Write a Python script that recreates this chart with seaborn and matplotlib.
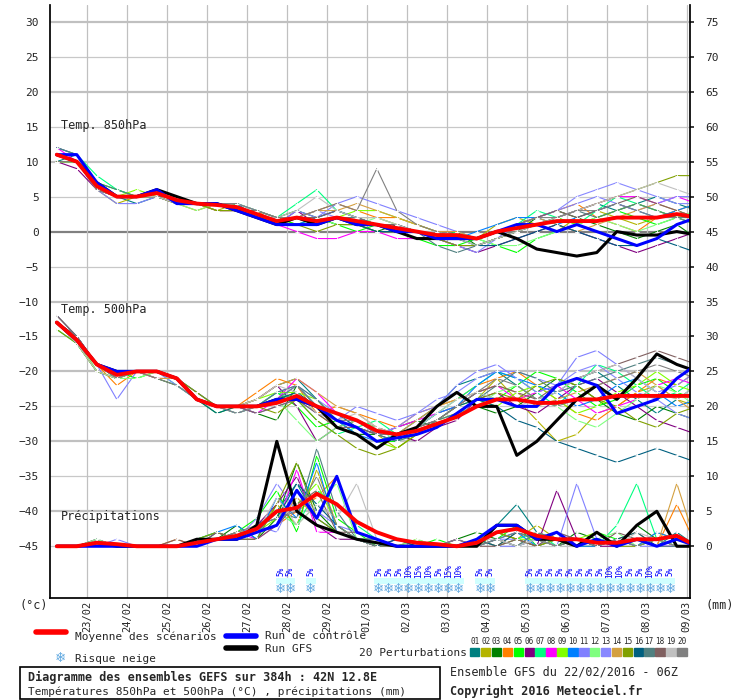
import matplotlib
matplotlib.use("Agg")
import matplotlib.pyplot as plt
import numpy as np
import pandas as pd
import seaborn as sns

sns.set_theme(style="white")
plt.rcParams["font.family"] = ["DejaVu Sans Mono", "DejaVu Sans"]

# time axis: days since 22/02 00Z, 12h steps from 22/02 06Z to 09/03 06Z
DAYS = [0.25 + 0.5 * i for i in range(33)]
DATE_LABELS = ["23/02", "24/02", "25/02", "26/02", "27/02", "28/02", "29/02", "01/03",
               "02/03", "03/03", "04/03", "05/03", "06/03", "07/03", "08/03", "09/03"]

MEMBER_COLORS = ["#008080", "#b4b400", "#008000", "#ff8000", "#00ff00", "#800080", "#00ff80",
                 "#ff00ff", "#80ff00", "#0080ff", "#8080ff", "#80ff80", "#8888ff", "#d4a040",
                 "#80a000", "#006080", "#508080", "#806060", "#c0c0c0", "#808080"]

t850_members = [
    [10,11,7,5,4,5,4,4,4,3,2,1,2,2,3,2,1,0,-1,-1,-2,-2,-1,0,1,2,3,4,3,4,5,4,3],
    [11,10,6,4,5,6,4,4,3,4,3,2,1,1,2,2,2,1,0,0,-1,-1,1,2,1,0,2,3,2,1,2,3,2],
    [10,10,7,5,5,5,5,4,4,3,2,2,3,2,1,1,0,1,0,-1,0,-2,-1,0,2,3,2,1,0,-1,0,1,-1],
    [12,11,6,5,5,6,4,3,4,3,3,1,2,3,4,3,2,2,1,0,-1,-1,0,1,2,3,4,2,1,0,2,3,4],
    [11,10,7,6,5,5,4,4,4,4,2,2,1,2,1,0,1,0,-1,-2,-2,-1,-2,-3,-1,0,1,2,3,2,1,2,1],
    [10,9,6,5,5,6,5,4,3,3,2,1,3,1,2,1,1,0,-1,-1,-2,-3,-2,-1,0,1,0,-1,-2,-3,-2,-1,0],
    [11,11,8,6,5,5,4,4,4,4,3,2,4,6,3,2,1,0,0,-1,0,-1,0,1,3,2,1,3,5,4,3,2,1],
    [12,10,6,5,5,5,4,4,3,3,2,1,0,-1,-1,0,0,-1,-1,-1,-2,-2,-1,0,1,2,3,4,5,5,4,5,4],
    [10,10,7,5,6,5,4,4,3,3,3,2,2,1,2,3,3,2,1,0,-1,-2,-1,0,1,2,1,2,3,4,3,2,3],
    [12,11,7,5,5,6,5,4,4,4,2,1,1,2,3,2,1,1,0,0,-1,0,1,2,2,1,2,3,4,3,2,3,4],
    [11,10,6,4,4,5,4,4,4,3,2,1,3,2,4,5,4,3,2,1,0,-1,0,1,2,3,4,5,4,3,4,5,5],
    [10,10,7,5,5,5,4,3,4,4,3,2,2,2,1,1,2,1,0,0,-1,-1,-2,-2,-1,0,1,2,1,0,1,2,3],
    [11,11,6,5,5,6,5,4,4,4,3,2,2,3,2,2,1,1,0,-1,-2,-3,-1,1,2,3,5,6,7,6,5,4,4],
    [11,10,7,5,5,5,4,4,4,3,2,2,2,3,3,4,3,2,1,0,0,-1,0,1,2,1,0,1,2,3,4,3,2],
    [10,10,6,5,5,5,4,4,3,3,2,1,1,0,1,1,0,0,-1,-1,-2,-2,-1,0,1,2,3,4,5,6,7,8,8],
    [11,10,7,5,5,6,4,4,4,3,2,2,2,1,2,1,0,0,-1,-1,-1,-2,-2,-1,0,1,0,-1,-2,-2,-1,-2,-3],
    [12,11,7,6,5,5,5,4,4,3,2,1,2,1,2,2,1,1,0,-2,-3,-2,-1,0,1,2,3,2,3,4,3,2,2],
    [11,10,6,5,5,5,4,4,4,3,3,2,2,2,3,2,1,1,0,-1,-1,-1,0,1,2,3,2,3,4,5,4,3,2],
    [11,10,7,5,5,5,4,4,4,3,2,2,3,5,3,2,2,1,0,0,-1,-2,-1,0,1,2,3,4,5,6,7,6,5],
    [10,10,6,5,5,6,5,4,4,4,3,2,2,3,4,3,9,3,1,0,-1,-1,0,1,2,2,3,3,4,3,2,2,1],
]
t850_mean = [11,10,6.5,5,5,5.5,4.5,4,3.8,3.5,2.5,1.5,2,1.5,2,1.5,1,0.5,0,-0.5,-0.5,-1,0,0.5,1,1.5,1.5,1.5,2,2,2,2.5,2]
t850_control = [11,11,7,5,5,6,4,4,4,3,2,1,1,1,2,1,1,0,0,-1,-1,-1,0,1,1,0,1,0,-1,-2,-1,1,2]
t850_gfs = [11,10,7,5,5,6,5,4,4,3,2,1,2,1,2,1,1,0,-1,-1,-1,-1,0,-1,-2.5,-3,-3.5,-3,0,-0.5,-0.5,0,-0.5]

t500_members = [
    [-13,-16,-19,-21,-20,-20,-21,-24,-25,-25,-24,-22,-21,-24,-27,-28,-30,-29,-27,-25,-22,-21,-20,-22,-24,-23,-21,-20,-22,-24,-26,-24,-22],
    [-13,-15,-19,-20,-20,-20,-21,-24,-25,-26,-25,-24,-23,-26,-28,-27,-29,-31,-29,-27,-26,-24,-21,-24,-27,-30,-29,-26,-25,-23,-22,-24,-25],
    [-13,-16,-20,-21,-20,-21,-22,-24,-25,-25,-26,-27,-22,-25,-27,-29,-29,-28,-27,-28,-26,-25,-26,-25,-23,-21,-22,-24,-26,-27,-25,-26,-27],
    [-12,-15,-19,-22,-20,-20,-21,-23,-25,-25,-23,-21,-22,-26,-25,-26,-27,-28,-26,-25,-24,-22,-21,-20,-22,-24,-26,-27,-25,-23,-21,-22,-20],
    [-13,-16,-19,-20,-21,-20,-21,-24,-26,-25,-25,-23,-25,-28,-27,-28,-30,-30,-28,-26,-25,-23,-24,-22,-20,-21,-23,-25,-24,-22,-21,-23,-24],
    [-13,-15,-19,-21,-20,-20,-21,-24,-25,-25,-24,-22,-25,-30,-28,-27,-28,-29,-30,-28,-27,-24,-23,-25,-26,-24,-22,-21,-23,-25,-27,-28,-29],
    [-14,-16,-20,-21,-20,-20,-22,-24,-25,-26,-25,-23,-24,-27,-29,-28,-27,-29,-28,-26,-24,-22,-20,-21,-23,-25,-22,-19,-20,-22,-24,-23,-21],
    [-13,-15,-19,-20,-20,-21,-21,-24,-25,-25,-26,-24,-21,-23,-26,-27,-29,-28,-27,-26,-25,-23,-22,-24,-23,-22,-24,-26,-25,-24,-22,-21,-22],
    [-13,-16,-20,-21,-20,-20,-21,-24,-25,-25,-24,-23,-23,-24,-27,-28,-30,-31,-29,-27,-25,-24,-25,-23,-22,-24,-26,-25,-23,-22,-20,-22,-23],
    [-12,-15,-19,-20,-20,-20,-21,-23,-25,-25,-25,-24,-22,-25,-27,-29,-30,-29,-28,-26,-25,-22,-20,-21,-22,-23,-25,-24,-22,-21,-23,-25,-24],
    [-13,-16,-19,-24,-20,-20,-21,-24,-25,-25,-26,-25,-24,-26,-27,-25,-26,-27,-26,-25,-22,-20,-19,-21,-23,-22,-18,-17,-19,-21,-23,-22,-20],
    [-13,-15,-20,-21,-21,-20,-21,-24,-25,-25,-25,-24,-27,-30,-28,-27,-28,-30,-29,-27,-26,-25,-23,-22,-24,-25,-27,-28,-26,-24,-22,-23,-25],
    [-13,-16,-19,-20,-20,-20,-22,-24,-25,-26,-25,-23,-22,-24,-26,-28,-29,-28,-26,-24,-23,-21,-20,-20,-21,-22,-20,-19,-21,-23,-24,-26,-27],
    [-13,-15,-19,-21,-20,-21,-21,-24,-25,-25,-24,-22,-21,-23,-25,-26,-28,-29,-27,-25,-24,-23,-22,-23,-25,-24,-23,-22,-21,-20,-22,-24,-26],
    [-14,-16,-20,-21,-20,-20,-21,-23,-25,-25,-25,-26,-24,-27,-29,-31,-32,-31,-29,-28,-26,-24,-23,-24,-22,-21,-22,-24,-25,-27,-28,-26,-25],
    [-13,-15,-19,-20,-20,-20,-21,-24,-26,-25,-25,-24,-23,-25,-26,-28,-29,-30,-28,-27,-25,-24,-25,-27,-28,-30,-31,-32,-33,-32,-31,-32,-33],
    [-13,-16,-19,-21,-20,-20,-21,-24,-25,-25,-25,-23,-22,-24,-27,-28,-29,-30,-29,-27,-26,-24,-22,-20,-21,-23,-22,-21,-20,-19,-18,-19,-20],
    [-12,-15,-19,-20,-20,-20,-21,-24,-25,-25,-26,-25,-24,-26,-28,-28,-29,-29,-28,-27,-25,-23,-22,-23,-24,-22,-21,-20,-19,-18,-17,-18,-19],
    [-13,-16,-20,-21,-20,-20,-21,-24,-25,-25,-24,-22,-23,-26,-27,-26,-28,-29,-28,-26,-24,-23,-24,-25,-24,-23,-21,-20,-19,-21,-23,-24,-22],
    [-13,-15,-19,-21,-20,-21,-22,-24,-25,-26,-25,-24,-22,-25,-27,-27,-29,-29,-28,-27,-25,-23,-21,-22,-24,-25,-24,-22,-21,-20,-19,-20,-21],
]
t500_mean = [-13,-15.5,-19,-20.5,-20,-20,-21,-24,-25,-25,-25,-24.5,-23.5,-25,-26,-27,-28.5,-29,-28.5,-27.5,-26.5,-25,-24,-24,-24.5,-24.5,-24,-24,-23.5,-23.5,-23.5,-23.5,-23.5]
t500_control = [-13,-15.5,-19,-20,-20,-20,-21,-24,-25,-25,-25,-24,-24,-25,-27,-28,-30,-29.5,-29,-28,-26,-24,-24,-25,-25,-22,-21,-22,-26,-25,-24,-21,-19]
t500_gfs = [-13,-15.5,-19,-20,-20,-20,-21,-24,-25,-25,-25,-24,-24,-25,-28,-29,-31,-29,-28,-25,-23,-25,-25,-32,-30,-27,-24,-22,-24,-21,-17.5,-19,-20]

precip_members = [
    [0,0,1,0,0,0,0,1,2,1,3,5,9,4,2,1,1,0,0,0,0,1,3,6,2,1,0,1,0,1,0,2,0],
    [0,0,0,0,0,0,0,0,1,2,2,6,3,11,3,1,0,0,1,0,0,0,2,1,3,1,0,0,1,0,2,1,0],
    [0,0,0,0,0,0,0,1,1,3,1,4,12,5,2,1,1,0,0,0,1,2,1,0,1,0,2,1,0,3,1,0,0],
    [0,0,0,0,0,0,1,0,2,1,2,3,5,7,10,2,1,0,0,0,0,1,0,2,1,0,1,0,1,2,0,6,0],
    [0,0,1,0,0,0,0,1,1,2,4,8,2,13,4,2,0,0,0,1,0,0,1,3,0,1,0,2,1,0,1,0,0],
    [0,0,0,0,0,0,0,0,1,1,3,6,10,3,1,1,0,1,0,0,0,1,2,1,0,8,1,0,0,1,0,1,0],
    [0,0,0,0,0,0,0,1,2,1,2,5,3,8,6,3,1,0,0,0,0,1,0,1,2,0,1,0,3,9,1,0,0],
    [0,0,1,0,0,0,0,0,1,2,1,3,11,2,2,1,0,0,0,0,1,0,1,0,2,1,0,1,0,1,0,0,0],
    [0,0,0,0,0,0,0,1,1,1,2,4,6,9,3,1,1,0,0,0,0,1,2,1,1,0,1,2,0,1,0,1,0],
    [0,0,0,0,0,0,0,0,2,3,1,7,4,12,2,1,0,0,0,0,0,0,1,2,0,1,0,0,1,0,2,1,0],
    [0,0,0,1,0,0,0,1,1,1,3,2,8,5,3,2,1,0,0,0,0,1,0,0,1,0,9,1,0,1,0,0,0],
    [0,0,1,0,0,0,0,0,1,2,2,5,3,6,9,1,0,0,1,0,0,0,1,0,2,1,0,1,2,0,1,0,0],
    [0,0,0,0,0,0,0,1,1,1,4,9,5,3,2,1,1,0,0,0,1,0,1,1,0,2,1,0,1,0,0,1,0],
    [0,0,0,0,0,0,0,0,1,2,2,3,7,4,10,2,1,0,0,0,0,1,0,1,0,1,0,2,0,1,0,9,0],
    [0,0,0,0,0,0,0,1,2,1,1,6,12,4,2,1,0,0,0,0,0,0,2,1,0,1,0,1,0,0,1,0,0],
    [0,0,0,0,0,0,0,0,1,1,3,4,9,6,3,1,0,1,0,0,0,1,0,2,1,0,1,0,1,2,0,1,0],
    [0,0,0,0,0,0,0,1,1,2,2,5,4,14,5,1,1,0,0,0,0,0,1,0,2,1,0,1,0,1,0,0,0],
    [0,0,0,0,0,0,1,0,2,1,1,3,6,8,2,2,1,0,0,0,1,0,0,1,0,2,1,0,2,1,0,1,0],
    [0,0,0,0,0,0,0,1,1,1,2,7,3,6,4,9,1,0,0,0,0,1,1,0,1,0,0,1,0,2,1,0,0],
    [0,0,0,0,0,0,0,1,1,2,3,4,5,10,3,1,0,0,0,0,1,0,1,2,1,0,1,0,1,0,1,0,0],
]
precip_mean = [0,0,0.5,0.3,0,0,0,0.5,1,1.5,2.5,5,5.5,7.5,6,3.5,2,1,0.5,0.3,0,0.5,2,2.5,1.5,1,1,0.5,0.5,1,1,1.5,0]
precip_control = [0,0,0,0,0,0,0,0,1,1,2,3,8,4,10,2,1,0,0,0,0,1,3,3,1,2,0,1,0,1,0,1,0]
precip_gfs = [0,0,0.5,0,0,0,0,1,1,1,3,15,5,3,2,1,0.5,0,0,0,0,0,3,3,1,1,0,2,0,3,5,0,0]

# snow risk (day, probability %)
snow_days = [5.85, 6.08, 6.6] + [8.3 + 0.25 * i for i in range(9)] + [10.83, 11.08] + \
            [12.08 + 0.25 * i for i in range(15)]
snow_pct = [5, 5, 5] + [5, 5, 5, 10, 15, 10, 5, 15, 10] + [5, 5] + \
           [5, 5, 5, 5, 5, 5, 5, 5, 10, 10, 5, 5, 10, 5, 5]


def long_frame(members):
    rows = []
    for i, series in enumerate(members):
        for d, v in zip(DAYS, series):
            rows.append({"day": d, "value": v, "member": f"{i + 1:02d}"})
    return pd.DataFrame(rows)


def draw_panel(ax, members, mean, control, gfs):
    df = long_frame(members)
    sns.lineplot(data=df, x="day", y="value", hue="member", palette=MEMBER_COLORS,
                 lw=0.8, marker="+", markersize=3, markeredgewidth=0.6,
                 legend=False, ax=ax, estimator=None)
    sns.lineplot(x=DAYS, y=gfs, color="black", lw=2.2, ax=ax)
    sns.lineplot(x=DAYS, y=control, color="blue", lw=2.2, ax=ax)
    sns.lineplot(x=DAYS, y=mean, color="red", lw=2.8, ax=ax)


fig = plt.figure(figsize=(7.4, 7.0), dpi=100)
ax = fig.add_axes([50 / 740, 1 - 598 / 700, 640 / 740, 593 / 700])
y_lo, y_hi = -52.4, 32.4
x_lo, x_hi = 0.08, 16.08

for v in range(-45, 35, 5):
    if v == 0:
        ax.axhline(v, color="#808080", lw=1.6, zorder=0)
    elif v % 10 == 0:
        ax.axhline(v, color="#c0c0c0", lw=1.6, zorder=0)
    else:
        ax.axhline(v, color="#c8c8c8", lw=0.9, zorder=0)
for d in range(1, 17):
    ax.axvline(d, color="#c0c0c0", lw=0.9, zorder=0)

draw_panel(ax, t850_members, t850_mean, t850_control, t850_gfs)
draw_panel(ax, t500_members, t500_mean, t500_control, t500_gfs)
draw_panel(ax, [[v - 45 for v in s] for s in precip_members],
           [v - 45 for v in precip_mean], [v - 45 for v in precip_control],
           [v - 45 for v in precip_gfs])

ax.set_xlim(x_lo, x_hi)
ax.set_ylim(y_lo, y_hi)
ax.set_xlabel("")
ax.set_ylabel("")
ax.set_yticks(range(-45, 35, 5))
ax.tick_params(axis="y", labelsize=8, length=0, pad=8)
ax.set_xticks(range(1, 17))
ax.set_xticklabels(DATE_LABELS, rotation=90, fontsize=7.5)
ax.tick_params(axis="x", length=0, pad=2)
for side in ["top", "right"]:
    ax.spines[side].set_visible(False)
ax.spines["left"].set_color("black")
ax.spines["bottom"].set_color("black")

ax2 = ax.twinx()
ax2.set_ylim(y_lo + 45, y_hi + 45)
ax2.set_yticks(range(0, 80, 5))
ax2.tick_params(axis="y", labelsize=8, length=3, pad=8)
for side in ["top", "left", "bottom"]:
    ax2.spines[side].set_visible(False)
ax2.spines["right"].set_color("black")
ax2.grid(False)

ax.text(0.35, 14.6, "Temp. 850hPa", fontsize=8.5)
ax.text(0.35, -11.6, "Temp. 500hPa", fontsize=8.5)
ax.text(0.35, -41.3, "Précipitations", fontsize=8.5)

# snow risk strip
for d, p in zip(snow_days, snow_pct):
    ax.add_patch(plt.Rectangle((d - 0.13, -50.4), 0.26, 0.8, color="#d0ffff", zorder=1, lw=0))
    ax.text(d, -51.0, "❄", color="#60a8e0", fontsize=11, ha="center", va="center", zorder=3)
    ax.text(d, -48.6, f"{p}%", color="blue", fontsize=5.5, rotation=90, ha="center",
            va="center", zorder=3)

fig.text(20 / 740, 1 - 606 / 700, "(°c)", fontsize=8.5, va="center")
fig.text(706 / 740, 1 - 606 / 700, "(mm)", fontsize=8.5, va="center")


# legend area
def fig_line(x0, x1, y, color):
    fig.add_artist(plt.Line2D([x0 / 740, x1 / 740], [1 - y / 700] * 2, color=color, lw=4))


fig_line(36, 66, 632, "red")
fig.text(75 / 740, 1 - 637 / 700, "Moyenne des scénarios", fontsize=8, va="center")
fig_line(226, 256, 636, "blue")
fig.text(265 / 740, 1 - 636 / 700, "Run de contrôle", fontsize=8, va="center")
fig_line(226, 256, 648, "black")
fig.text(265 / 740, 1 - 649 / 700, "Run GFS", fontsize=8, va="center")
fig.text(60 / 740, 1 - 658 / 700, "❄", color="#60a8e0", fontsize=11, ha="center", va="center")
fig.text(75 / 740, 1 - 659 / 700, "Risque neige", fontsize=8, va="center")
fig.text(467 / 740, 1 - 653 / 700, "20 Perturbations", fontsize=8, va="center", ha="right")
for i, c in enumerate(MEMBER_COLORS):
    x0 = 470 + i * 10.9
    fig.add_artist(plt.Rectangle((x0 / 740, 1 - 656 / 700), 9.5 / 740, 8 / 700, color=c))
    fig.text((x0 + 4.8) / 740, 1 - 642 / 700, f"{i + 1:02d}", fontsize=5.5, ha="center",
             va="center")

fig.add_artist(plt.Rectangle((20 / 740, 0.002), 420 / 740, 32 / 700, fill=False,
                             edgecolor="black", lw=1.2))
fig.text(28 / 740, 1 - 677 / 700, "Diagramme des ensembles GEFS sur 384h : 42N 12.8E",
         fontsize=8.5, fontweight="bold", va="center")
fig.text(28 / 740, 1 - 692 / 700, "Températures 850hPa et 500hPa (°C) , précipitations (mm)",
         fontsize=8, va="center")
fig.text(450 / 740, 1 - 672 / 700, "Ensemble GFS du 22/02/2016 - 06Z", fontsize=8.5,
         va="center")
fig.text(450 / 740, 1 - 691 / 700, "Copyright 2016 Meteociel.fr", fontsize=8.5,
         fontweight="bold", va="center")

fig.savefig("out.png", dpi=100)
